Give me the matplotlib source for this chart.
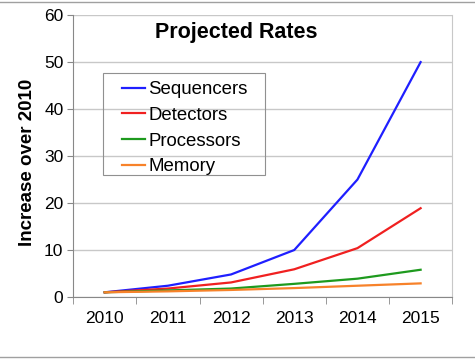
import matplotlib

matplotlib.use("Agg")

import matplotlib.pyplot as plt
import numpy as np
from matplotlib.lines import Line2D
from matplotlib.patches import Rectangle

plt.rcParams["font.family"] = ["Liberation Sans", "DejaVu Sans"]

years = ["2010", "2011", "2012", "2013", "2014", "2015"]
sequencers = [1, 2.4, 4.8, 10, 25, 50]
detectors = [1, 1.8, 3.1, 5.9, 10.4, 18.9]
processors = [1, 1.4, 1.8, 2.8, 3.9, 5.8]
memory = [1, 1.2, 1.5, 1.9, 2.4, 2.9]

series = [
    ("Sequencers", sequencers, "#1f1fff"),
    ("Detectors", detectors, "#f02020"),
    ("Processors", processors, "#1e9a1e"),
    ("Memory", memory, "#f7822a"),
]

fig = plt.figure(figsize=(4.75, 3.6), dpi=100)
ax = fig.add_axes([0.154, 0.175, 0.798, 0.783])

x = np.arange(len(years))
for name, vals, color in series:
    ax.plot(x, vals, color=color, lw=1.6, label=name, zorder=3)

ax.set_xlim(-0.5, len(years) - 0.5)
ax.set_ylim(0, 60)
ax.set_yticks(range(0, 61, 10))
ax.tick_params(axis="y", labelsize=12.5, length=4, color="#888888", pad=3)

# category labels sit between the tick marks
ax.set_xticks(x)
ax.set_xticklabels(years)
ax.set_xticks(np.arange(-0.5, len(years), 1.0), minor=True)
ax.tick_params(axis="x", which="major", length=0, labelsize=12.5, pad=10)
ax.tick_params(axis="x", which="minor", length=5, color="#888888")

ax.yaxis.grid(True, color="#c8c8c8", lw=1.0)
ax.set_axisbelow(True)
for side in ["left", "bottom"]:
    ax.spines[side].set_color("#888888")
ax.spines["top"].set_visible(False)
ax.spines["right"].set_color("#c8c8c8")

ax.set_ylabel("Increase over 2010", fontsize=13.5, fontweight="bold")
ax.yaxis.set_label_coords(-0.097, 0.479)
ax.text(0.43, 0.975, "Projected Rates", transform=ax.transAxes, ha="center",
        va="top", fontsize=15.5, fontweight="bold")

# legend without fill so the gridlines show through, framed by hand
handles = [Line2D([0], [0], color=c, lw=1.6) for _, _, c in series]
leg = ax.legend(handles, [n for n, _, _ in series], loc="upper left",
                bbox_to_anchor=(0.129, 0.765), fontsize=13.4, frameon=False,
                handlelength=1.25, handletextpad=0.15, labelspacing=0.46,
                borderpad=0, borderaxespad=0)
ax.add_patch(Rectangle((0.079, 0.433), 0.428, 0.361, transform=ax.transAxes,
                       fill=False, edgecolor="#909090", lw=0.8, zorder=4))

# gray rules along the top and bottom edges
fig.add_artist(Line2D([0, 1], [0.994, 0.994], color="#a0a0a0", lw=1.0))
fig.add_artist(Line2D([0, 1], [0.008, 0.008], color="#a0a0a0", lw=1.0))

fig.savefig("out.png", dpi=100)
